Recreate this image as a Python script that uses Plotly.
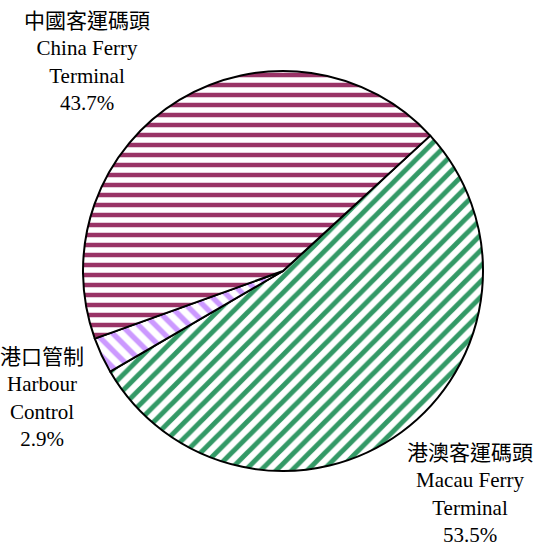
import plotly.graph_objects as go

labels_zh = ["港澳客運碼頭", "港口管制", "中國客運碼頭"]
labels_en = ["Macau Ferry<br>Terminal", "Harbour<br>Control", "China Ferry<br>Terminal"]
values = [53.5, 2.9, 43.7]
colors = ["#339966", "#CC99FF", "#993366"]
shapes = ["/", "\\", "-"]
sizes = [11, 12, 10]

W, H = 533, 547

fig = go.Figure(go.Pie(
    labels=labels_zh,
    values=values,
    sort=False,
    direction="clockwise",
    rotation=47.4,
    textinfo="none",
    hoverinfo="label+percent",
    marker=dict(
        colors=["white"] * 3,
        line=dict(color="black", width=2),
        pattern=dict(shape=shapes, fgcolor=colors, bgcolor="white",
                     size=sizes, solidity=0.45, fillmode="replace", fgopacity=1),
    ),
    domain=dict(x=[83 / W, 483 / W], y=[1 - 471 / H, 1 - 71 / H]),
    showlegend=False,
))

label_pos = [(470, 494), (42, 398), (87, 62)]
spacing = [1.25, 1.3, 1.3]
ann = []
for zh, en, v, (px, py) in zip(labels_zh, labels_en, values, label_pos):
    ann.append(dict(
        x=px / W, y=1 - py / H, xref="paper", yref="paper",
        text=f"{zh}<br>{en}<br>{v:.1f}%",
        showarrow=False, align="center", xanchor="center", yanchor="middle",
        font=dict(family="Liberation Serif, Noto Sans CJK TC", size=21, color="black"),
    ))

fig.update_layout(
    width=W, height=H,
    margin=dict(l=0, r=0, t=0, b=0),
    paper_bgcolor="white", plot_bgcolor="white",
    annotations=ann,
)

fig.write_html(
    "out.html",
    config={"displayModeBar": False},
    post_script="document.body.style.margin='0';document.body.style.overflow='hidden';",
)
